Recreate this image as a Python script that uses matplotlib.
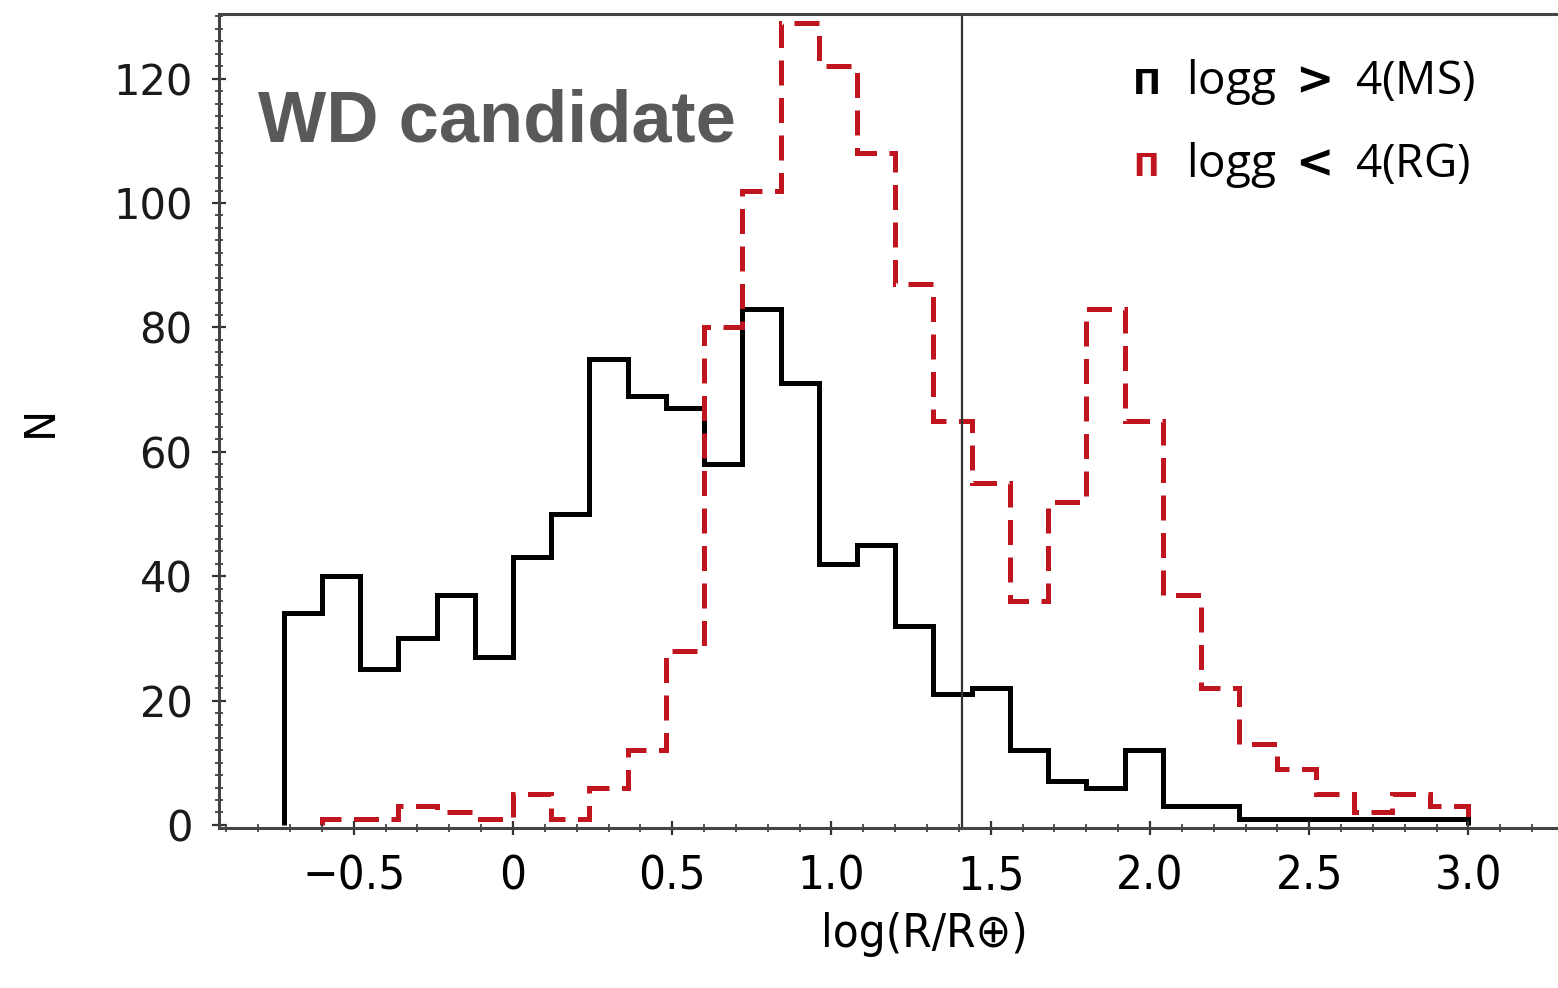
import numpy as np
import matplotlib
matplotlib.use("Agg")
import matplotlib.pyplot as plt
from matplotlib.ticker import MultipleLocator, FixedLocator


# bin edges of the histograms (width 0.12 in log R)
edges = np.round(np.arange(-0.72, 3.0001, 0.12), 2)

# logg > 4 (MS), one value per bin
n_ms = [34, 40, 25, 30, 37, 27, 43, 50, 75, 69, 67, 58, 83, 71, 42, 45,
        32, 21, 22, 12, 7, 6, 12, 3, 3, 1, 1, 1, 1, 1, 1]

# logg < 4 (RG), one value per bin
n_rg = [0, 1, 1, 3, 2, 1, 5, 1, 6, 12, 28, 80, 102, 129, 122, 108,
        87, 65, 55, 36, 52, 83, 65, 37, 22, 13, 9, 5, 2, 5, 3]

x_cut = 1.41
xticks = [-0.5, 0, 0.5, 1.0, 1.5, 2.0, 2.5, 3.0]
xticklabels = ["\u22120.5", "0", "0.5", "1.0", "1.5", "2.0", "2.5", "3.0"]
yticks = [0, 20, 40, 60, 80, 100, 120]

red = "#c0141e"

fig = plt.figure(figsize=(15.58, 9.88), dpi=100)
ax = fig.add_axes([219 / 1558, 1 - 828 / 988, 1 - 219 / 1558, (828 - 14) / 988])

ax.stairs(n_ms, edges, baseline=0, color="black", linewidth=3.6)
# red histogram starts at the second bin (first one is empty)
ax.stairs(n_rg[1:], edges[1:], baseline=0, color=red, linewidth=3.6,
          linestyle=(0, (5, 2.5)))
ax.axvline(x_cut, color="#333333", linewidth=1.6)

ax.set_xlim(-0.923, 3.281)
ax.set_ylim(-0.5, 130.4)

ax.xaxis.set_major_locator(FixedLocator(xticks))
ax.set_xticklabels(xticklabels)
ax.xaxis.set_minor_locator(MultipleLocator(0.1))
ax.set_yticks(yticks)
ax.yaxis.set_minor_locator(MultipleLocator(2))

ax.tick_params(axis="both", which="major", direction="inout", length=10,
               width=1.6, color="#333333")
ax.tick_params(axis="both", which="minor", direction="inout", length=6,
               width=1.2, color="#333333")
ax.tick_params(axis="x", pad=14)
ax.tick_params(axis="y", pad=14)
for lab in ax.get_xticklabels():
    lab.set_fontfamily("DejaVu Sans")
    lab.set_fontstretch("condensed")
    lab.set_fontsize(34)
for lab in ax.get_yticklabels():
    lab.set_fontfamily("DejaVu Sans")
    lab.set_fontsize(30)
    lab.set_color("#1a1a1a")

for side in ["top", "left", "bottom"]:
    ax.spines[side].set_linewidth(2.2)
    ax.spines[side].set_color("#444444")
ax.spines["right"].set_visible(False)

ax.set_xlabel("log(R/R\u2295)", fontsize=34, fontstretch="condensed",
              family="DejaVu Sans")
ax.xaxis.set_label_coords(0.527, -0.103)
ax.set_ylabel("N", fontsize=30, family="DejaVu Sans")
ax.yaxis.set_label_coords(-0.118, 0.5)

fig.text(258 / 1558, 1 - 142 / 988, "WD candidate", fontsize=52,
         fontweight="bold", color="#595959", family="Liberation Sans",
         ha="left", va="baseline")

# legend drawn as text, as in the figure
leg_font = ["Open Sans", "DejaVu Sans"]
fig.text(1133 / 1558, 1 - 84 / 988, "\u03a0", fontsize=24, fontweight="bold",
         color="black", ha="left", va="center", family="DejaVu Sans")
fig.text(1186 / 1558, 1 - 82 / 988, "logg $\\mathbf{>}$ 4(MS)", fontsize=33,
         ha="left", va="center", family=leg_font)
fig.text(1133 / 1558, 1 - 167 / 988, "\u03a0", fontsize=22, fontweight="bold",
         color=red, ha="left", va="center", family="DejaVu Sans")
fig.text(1186 / 1558, 1 - 165 / 988, "logg $\\mathbf{<}$ 4(RG)", fontsize=33,
         ha="left", va="center", family=leg_font)

fig.savefig("out.png", dpi=100)
